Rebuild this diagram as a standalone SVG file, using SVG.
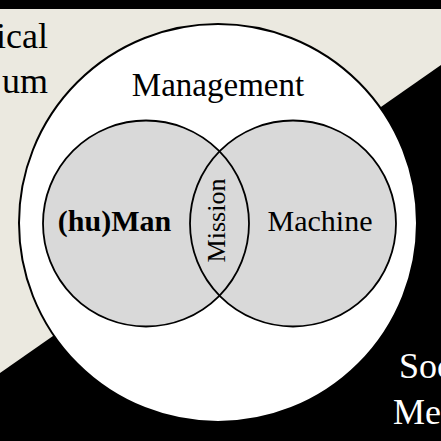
<svg xmlns="http://www.w3.org/2000/svg" width="441" height="441" viewBox="0 0 441 441">
  <style>
    .serif { font-family: "Liberation Serif", "Times New Roman", serif; }
    .lbl { font-family: "Liberation Serif", "Times New Roman", serif; fill: #000; }
    .bg-lbl { font-family: "Liberation Serif", "Times New Roman", serif; font-size: 36px; }
    .venn { fill: #d9d9d9; stroke: none; }
    .venn-line { fill: none; stroke: #000; stroke-width: 1.8; }
  </style>
  <rect x="0" y="0" width="441" height="441" fill="#000"/>
  <polygon points="0,9 441,9 441,65 0,373" fill="#ebe9e0"/>
  <text class="bg-lbl" x="48" y="48" text-anchor="end" fill="#000">ical</text>
  <text class="bg-lbl" x="48" y="93" text-anchor="end" fill="#000">um</text>
  <text class="bg-lbl" x="399" y="378" fill="#fff">Soc</text>
  <text class="bg-lbl" x="393" y="424" fill="#fff">Me</text>

  <g id="management">
    <circle cx="218" cy="223" r="199" fill="#fff" stroke="#000" stroke-width="2"/>
    <text class="lbl" x="218" y="96" font-size="33" text-anchor="middle">Management</text>
  </g>
  <g id="human">
    <circle class="venn" cx="146" cy="223.5" r="103"/>
  </g>
  <g id="machine">
    <circle class="venn" cx="293" cy="223.5" r="103"/>
  </g>
  <g id="outlines">
    <circle class="venn-line" cx="146" cy="223.5" r="103"/>
    <circle class="venn-line" cx="293" cy="223.5" r="103"/>
  </g>
  <g id="human-label">
    <text class="lbl" x="114.5" y="231" font-size="30" font-weight="bold" text-anchor="middle">(hu)Man</text>
  </g>
  <g id="machine-label">
    <text class="lbl" x="320" y="231" font-size="30" text-anchor="middle">Machine</text>
  </g>
  <g id="mission">
    <text class="lbl" transform="translate(225,220.5) rotate(-90)" x="0" y="0" font-size="26" text-anchor="middle">Mission</text>
  </g>
  <g id="connectors"></g>
</svg>
